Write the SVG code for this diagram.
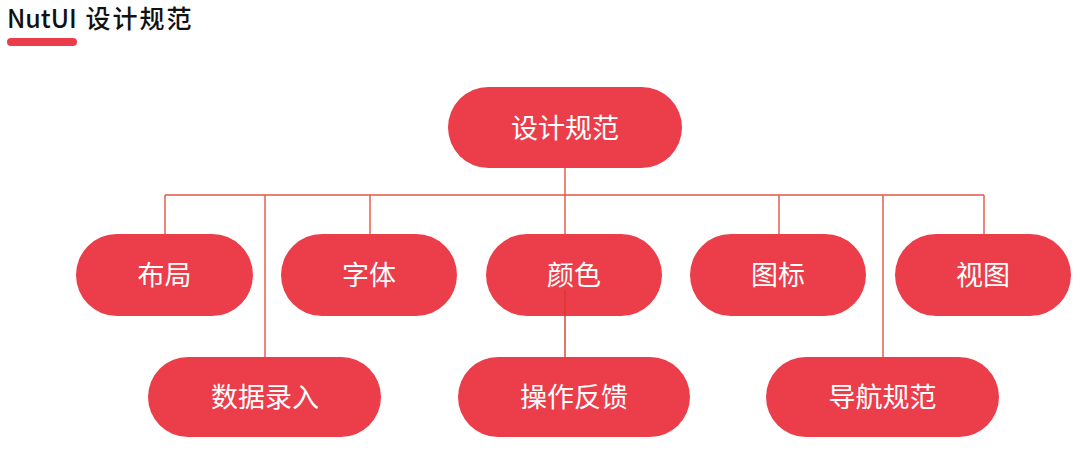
<svg xmlns="http://www.w3.org/2000/svg" width="1080" height="455" viewBox="0 0 1080 455">
  <style>
    .node rect { fill: #EB3E4A; }
    .node text { fill: #FFFFFF; font-family: "Noto Sans CJK SC", "Noto Sans", sans-serif; font-size: 27px; font-weight: 400; text-anchor: middle; }
    .conn line { stroke: #E6553F; stroke-width: 1.4; fill: none; }
    .title { fill: #111111; font-family: "Noto Sans CJK SC", "Noto Sans", sans-serif; font-size: 25px; font-weight: 500; }
  </style>
  <rect width="1080" height="455" fill="#FFFFFF"/>

  <g id="title">
    <text class="title" x="7" y="28">NutUI <tspan dx="3" letter-spacing="2">设计规范</tspan></text>
    <rect x="7" y="38" width="70" height="8" rx="4" fill="#EB3E4A"/>
  </g>

  <g id="node-root" class="node">
    <rect x="448" y="87" width="234" height="81" rx="40.5"/>
    <text x="565" y="138">设计规范</text>
  </g>
  <g id="node-layout" class="node">
    <rect x="76" y="234" width="177" height="82" rx="41"/>
    <text x="164.5" y="285">布局</text>
  </g>
  <g id="node-font" class="node">
    <rect x="281" y="234" width="176" height="82" rx="41"/>
    <text x="369" y="285">字体</text>
  </g>
  <g id="node-color" class="node">
    <rect x="486" y="234" width="176" height="82" rx="41"/>
    <text x="574" y="285">颜色</text>
  </g>
  <g id="node-icon" class="node">
    <rect x="690" y="234" width="176" height="82" rx="41"/>
    <text x="778" y="285">图标</text>
  </g>
  <g id="node-view" class="node">
    <rect x="895" y="234" width="176" height="82" rx="41"/>
    <text x="983" y="285">视图</text>
  </g>
  <g id="node-input" class="node">
    <rect x="148" y="357" width="233" height="80" rx="40"/>
    <text x="265" y="407">数据录入</text>
  </g>
  <g id="node-feedback" class="node">
    <rect x="458" y="357" width="232" height="80" rx="40"/>
    <text x="574" y="407">操作反馈</text>
  </g>
  <g id="node-nav" class="node">
    <rect x="766" y="357" width="233" height="80" rx="40"/>
    <text x="882.5" y="407">导航规范</text>
  </g>

  <g id="connectors" class="conn">
    <line x1="565" y1="168" x2="565" y2="195"/>
    <line x1="165" y1="195" x2="984" y2="195"/>
    <line x1="165" y1="195" x2="165" y2="234"/>
    <line x1="265" y1="195" x2="265" y2="357"/>
    <line x1="370" y1="195" x2="370" y2="234"/>
    <line x1="565" y1="195" x2="565" y2="234"/>
    <line x1="779" y1="195" x2="779" y2="234"/>
    <line x1="883" y1="195" x2="883" y2="357"/>
    <line x1="984" y1="195" x2="984" y2="234"/>
    <line x1="565" y1="290" x2="565" y2="357" style="stroke:#D63A2E"/>
  </g>
</svg>
